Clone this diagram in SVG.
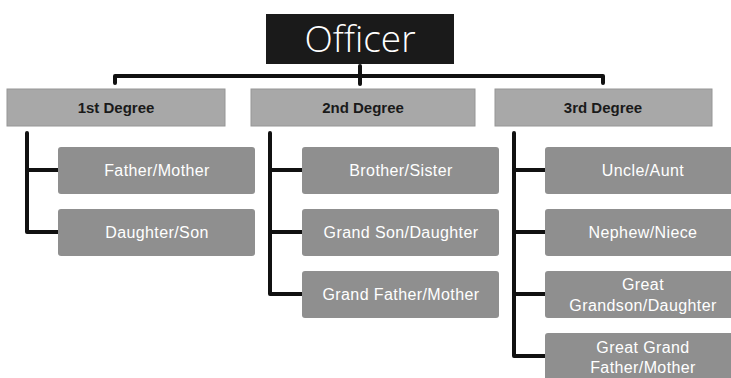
<svg xmlns="http://www.w3.org/2000/svg" width="731" height="378" viewBox="0 0 731 378">
<style>
.deg{fill:#a8a8a8;stroke:#969696;stroke-width:1}
.ch{fill:#8f8f8f}
.dt{font-family:"Liberation Sans",Arial,sans-serif;font-weight:bold;font-size:15px;fill:#1a1a1a;text-anchor:middle}
.ct{font-family:"Liberation Sans",Arial,sans-serif;font-size:16px;fill:#ffffff;text-anchor:middle;letter-spacing:0.4px}
.ln{fill:none;stroke:#111;stroke-width:4;stroke-linejoin:round;stroke-linecap:round}
</style>
<rect width="731" height="378" fill="#ffffff"/>
<g id="officer">
<rect x="266" y="14" width="188" height="50" fill="#1a1a1a"/>
<text x="360" y="52" font-family="Open Sans,Liberation Sans,Arial,sans-serif" font-weight="300" font-size="37" fill="#ffffff" text-anchor="middle">Officer</text>
</g>
<g id="connectors">
<path class="ln" d="M115,83 V76 H603 V83"/>
<path class="ln" d="M360,66 V84" stroke-width="3"/>
<path class="ln" d="M27,133 V232 H58 M27,170 H58"/>
<path class="ln" d="M270,133 V294 H302 M270,170 H302 M270,232 H302"/>
<path class="ln" d="M514,133 V356 H545 M514,170 H545 M514,232 H545 M514,294 H545"/>
</g>
<g id="deg1"><rect class="deg" x="7" y="89" width="218" height="37"/><text class="dt" x="116" y="113">1st Degree</text></g>
<g id="deg2"><rect class="deg" x="251" y="89" width="224" height="37"/><text class="dt" x="363" y="113">2nd Degree</text></g>
<g id="deg3"><rect class="deg" x="495" y="89" width="217" height="37"/><text class="dt" x="603" y="113">3rd Degree</text></g>
<g id="father-mother"><rect class="ch" x="58" y="147" width="197" height="47" rx="3"/><text class="ct" x="157" y="176">Father/Mother</text></g>
<g id="daughter-son"><rect class="ch" x="58" y="209" width="197" height="47" rx="3"/><text class="ct" x="157" y="238">Daughter/Son</text></g>
<g id="brother-sister"><rect class="ch" x="302" y="147" width="197" height="47" rx="3"/><text class="ct" x="401" y="176">Brother/Sister</text></g>
<g id="grand-son"><rect class="ch" x="302" y="209" width="197" height="47" rx="3"/><text class="ct" x="401" y="238">Grand Son/Daughter</text></g>
<g id="grand-father"><rect class="ch" x="302" y="271" width="197" height="47" rx="3"/><text class="ct" x="401" y="300">Grand Father/Mother</text></g>
<g id="uncle-aunt"><rect class="ch" x="545" y="147" width="197" height="47" rx="3"/><text class="ct" x="643" y="176">Uncle/Aunt</text></g>
<g id="nephew-niece"><rect class="ch" x="545" y="209" width="197" height="47" rx="3"/><text class="ct" x="643" y="238">Nephew/Niece</text></g>
<g id="great-grandson"><rect class="ch" x="545" y="271" width="197" height="47" rx="3"/><text class="ct" x="643" y="290">Great</text><text class="ct" x="643" y="311">Grandson/Daughter</text></g>
<g id="great-grandfather"><rect class="ch" x="545" y="333" width="197" height="50" rx="3"/><text class="ct" x="643" y="353">Great Grand</text><text class="ct" x="643" y="373">Father/Mother</text></g>
</svg>
